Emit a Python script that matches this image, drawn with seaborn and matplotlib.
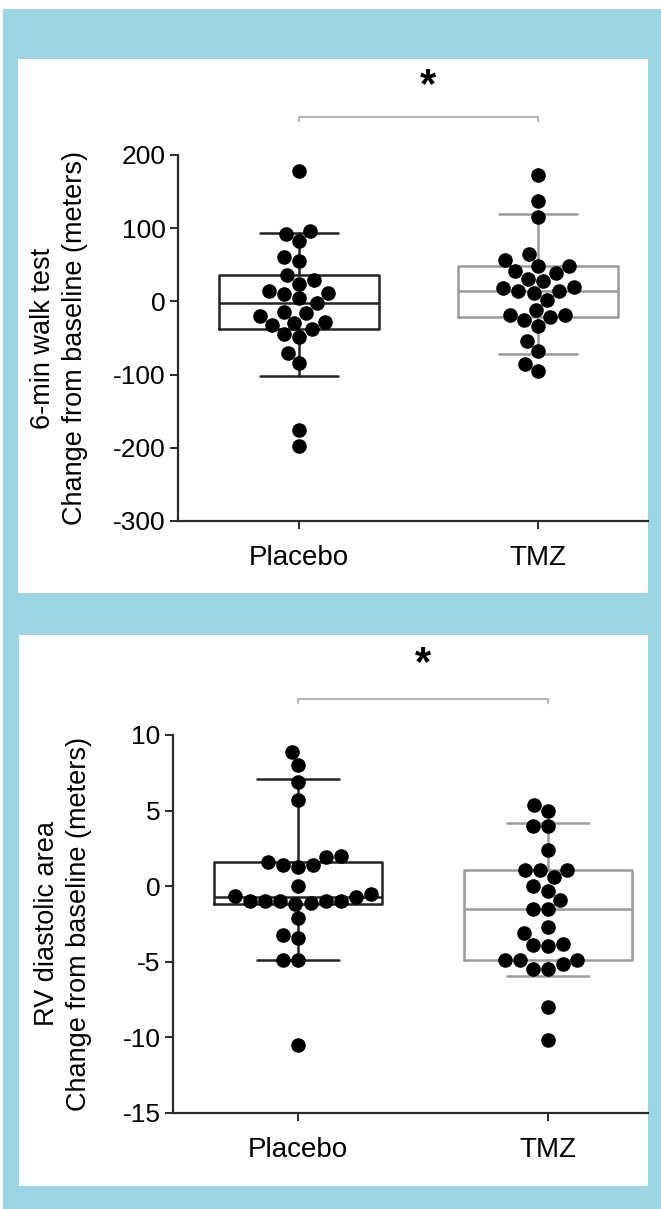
import numpy as np
import pandas as pd
import matplotlib
matplotlib.use("Agg")
import matplotlib.pyplot as plt
from matplotlib.patches import Rectangle
import seaborn as sns

# ---------------- data ----------------
groups = ["Placebo", "TMZ"]

walk_placebo = [178, 96, 92, 82, 60, 55, 36, 24, 29, 12, 10, 14, 4, -2, -20, -14, -16,
                -29, -38, -48, -44, -32, -28, -70, -84, -175, -197]
walk_tmz = [172, 137, 115, 57, 49, 49, 65, 39, 42, 28, 31, 18, 14, 12, 14, 20, 2,
            -19, -21, -26, -19, -12, -34, -54, -68, -85, -95]

rv_placebo = [8.9, 8.0, 6.9, 5.7, 1.9, 1.4, 1.25, 1.4, 1.6, 2.0, 0.0, -0.5, -0.7, -1.0,
              -1.0, -1.1, -1.15, -1.0, -1.0, -1.0, -0.65, -2.1, -3.4, -3.2, -4.9, -4.9, -10.5]
rv_tmz = [5.4, 5.0, 4.0, 4.0, 2.4, 1.1, 1.1, 0.6, 1.1, 0.0, -0.3, -0.9, -1.5, -1.5, -2.7,
          -3.1, -3.95, -3.8, -3.9, -4.9, -5.15, -5.45, -5.45, -4.9, -4.9, -8.0, -10.15]

walk_ticks = [-300, -200, -100, 0, 100, 200]
rv_ticks = [-15, -10, -5, 0, 5, 10]

walk_label = "6-min walk test\nChange from baseline (meters)"
rv_label = "RV diastolic area\nChange from baseline (meters)"
sig_text = "*"

# ---------------- style ----------------
sns.set_theme(style="ticks")
plt.rcParams["font.family"] = ["Liberation Sans", "DejaVu Sans"]
plt.rcParams["axes.unicode_minus"] = False

W, H = 661, 1209
fig = plt.figure(figsize=(W / 100, H / 100), dpi=100, facecolor="white")

BLUE = "#9dd4e5"
fig.add_artist(Rectangle((3 / W, 0), 1 - 3 / W, 1 - 9 / H, transform=fig.transFigure,
                         facecolor=BLUE, edgecolor="none", zorder=-20))
fig.add_artist(Rectangle((18 / W, 1 - 593 / H), (648 - 18) / W, (593 - 59) / H,
                         transform=fig.transFigure, facecolor="white", edgecolor="none", zorder=-10))
fig.add_artist(Rectangle((19 / W, 1 - 1186 / H), (648 - 19) / W, (1186 - 635) / H,
                         transform=fig.transFigure, facecolor="white", edgecolor="none", zorder=-10))


def box_stats(vals):
    q = np.percentile(vals, [10, 25, 50, 75, 90], method="weibull")
    return dict(whislo=q[0], q1=q[1], med=q[2], q3=q[3], whishi=q[4], fliers=[])


def panel(rect, series, ticks, ylabel, ylim, xlim, bracket_y, star_y, star_x, labelpad):
    ax = fig.add_axes(rect)
    ax.set_facecolor("none")
    box_cols = ["#222222", "#9a9a9a"]
    for i, (vals, col) in enumerate(zip(series, box_cols)):
        lp = dict(color=col, linewidth=1.8)
        ax.bxp([box_stats(vals)], positions=[i], widths=0.67, capwidths=[0.33],
               showfliers=False, boxprops=lp, whiskerprops=lp, capprops=lp,
               medianprops=lp, manage_ticks=False, zorder=2)
    df = pd.DataFrame({
        "group": np.repeat(groups, [len(s) for s in series]),
        "value": np.concatenate(series),
    })
    sns.swarmplot(data=df, x="group", y="value", order=groups, color="black",
                  size=10.5, linewidth=0, ax=ax, zorder=3)
    ax.set_xlim(*xlim)
    ax.set_ylim(*ylim)
    ax.set_yticks(ticks)
    ax.set_yticklabels([str(t) for t in ticks])
    ax.set_xlabel("")
    ax.set_ylabel(ylabel, fontsize=19.5, linespacing=1.3, labelpad=labelpad, color="black")
    for s in ["top", "right"]:
        ax.spines[s].set_visible(False)
    for s in ["left", "bottom"]:
        ax.spines[s].set_color("#2a2a2a")
        ax.spines[s].set_linewidth(1.6)
    ax.tick_params(axis="y", length=6, width=1.4, color="#2a2a2a", labelsize=19, pad=3,
                   labelcolor="black")
    ax.tick_params(axis="x", length=6, width=1.4, color="#2a2a2a", labelsize=20, pad=11,
                   labelcolor="black")
    # significance bracket
    h = (ylim[1] - ylim[0]) * 0.012
    ax.plot([0, 0, 1, 1], [bracket_y - h, bracket_y, bracket_y, bracket_y - h],
            color="#b5b5b5", linewidth=1.5, clip_on=False)
    ax.text(star_x, star_y, sig_text, ha="center", va="center", fontsize=30,
            fontweight="bold", color="black", clip_on=False)
    return ax


panel([178 / W, 1 - 521 / H, (648 - 178) / W, (521 - 155) / H],
      [walk_placebo, walk_tmz], walk_ticks, walk_label,
      (-300, 200), (-0.506, 1.46), 252, 294, 0.54, 18)

panel([173 / W, 1 - 1113 / H, (648 - 173) / W, (1113 - 735) / H],
      [rv_placebo, rv_tmz], rv_ticks, rv_label,
      (-15, 10), (-0.5, 1.4), 12.4, 14.7, 0.5, 22)

fig.savefig("out.png", dpi=100, facecolor="white")
